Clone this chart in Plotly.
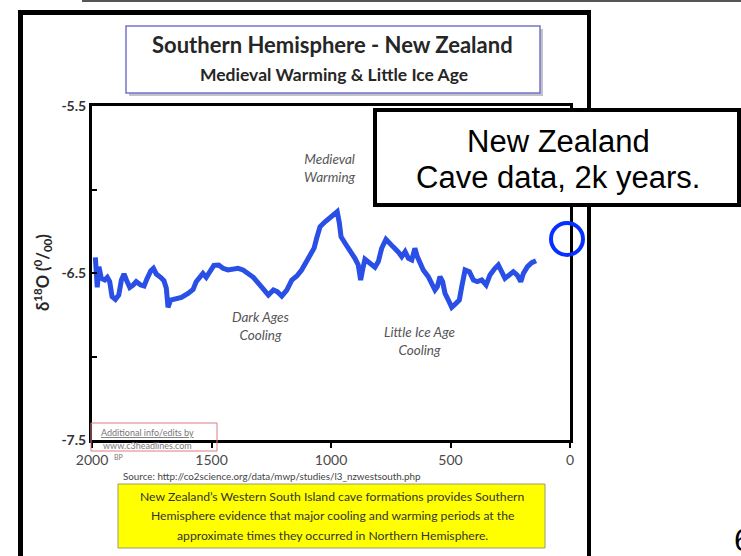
import plotly.graph_objects as go

# ---------------- data ----------------
years_bp = [1986, 1978, 1971, 1961, 1947, 1936, 1926, 1916, 1902, 1888, 1877, 1866, 1856, 1842, 1828,
            1815, 1796, 1782, 1769, 1754, 1743, 1731, 1713, 1699, 1689, 1682, 1671, 1651, 1626, 1598,
            1577, 1564, 1549, 1536, 1522, 1508, 1490, 1470, 1452, 1431, 1406, 1389, 1368, 1353, 1325,
            1297, 1276, 1262, 1241, 1225, 1206, 1185, 1164, 1143, 1123, 1109, 1088, 1071, 1060, 1046,
            1025, 1007, 990, 974, 965, 958, 941, 921, 900, 886, 876, 868, 858, 837, 816,
            802, 788, 770, 756, 739, 718, 704, 690, 676, 662, 649, 639, 628, 614, 593,
            579, 565, 555, 544, 533, 523, 509, 495, 477, 463, 453, 439, 421, 404, 388,
            369, 351, 335, 314, 300, 286, 272, 254, 237, 221, 206, 195, 178, 160, 142]

d18o = [-6.406, -6.586, -6.462, -6.532, -6.542, -6.526, -6.552, -6.642, -6.658, -6.632, -6.542, -6.506,
        -6.542, -6.586, -6.572, -6.552, -6.572, -6.578, -6.532, -6.486, -6.472, -6.506, -6.526, -6.546,
        -6.592, -6.706, -6.662, -6.654, -6.646, -6.622, -6.598, -6.552, -6.518, -6.502, -6.526, -6.492,
        -6.454, -6.452, -6.472, -6.482, -6.472, -6.472, -6.482, -6.495, -6.526, -6.572, -6.602, -6.632,
        -6.602, -6.612, -6.638, -6.602, -6.542, -6.518, -6.482, -6.446, -6.392, -6.352, -6.292, -6.223,
        -6.193, -6.172, -6.153, -6.133, -6.202, -6.283, -6.322, -6.362, -6.412, -6.452, -6.542, -6.482,
        -6.418, -6.442, -6.466, -6.432, -6.352, -6.298, -6.322, -6.345, -6.375, -6.402, -6.372, -6.412,
        -6.422, -6.352, -6.402, -6.442, -6.482, -6.522, -6.562, -6.602, -6.582, -6.522, -6.552, -6.622,
        -6.662, -6.706, -6.682, -6.662, -6.582, -6.482, -6.492, -6.542, -6.552, -6.542, -6.572, -6.512,
        -6.472, -6.452, -6.492, -6.532, -6.512, -6.492, -6.512, -6.552, -6.502, -6.462, -6.438, -6.426]

x_tickvals = [2000, 1500, 1000, 500, 0]
x_ticktext = ["2000", "1500", "1000", "500", "0"]
y_tickvals = [-5.5, -6.0, -6.5, -7.0, -7.5]
y_ticktext = ["-5.5", "", "-6.5", "", "-7.5"]

title_text = "Southern Hemisphere - New Zealand"
subtitle_text = "Medieval Warming & Little Ice Age"
period_labels = ["Medieval<br>Warming", "Dark Ages<br>Cooling", "Little Ice Age<br>Cooling"]
period_years = [1004, 1293, 628]
period_vals = [-5.87, -6.817, -6.907]
callout_lines = ["New Zealand", "Cave data, 2k years."]
source_text = "Source: http://co2science.org/data/mwp/studies/l3_nzwestsouth.php"
note_lines = ["New Zealand\u2019s Western South Island cave formations provides Southern",
              "Hemisphere evidence that major cooling and warming periods at the",
              "approximate times they occurred in Northern Hemisphere."]
credit_lines = ["<u>Additional info/edits by</u>", "www.c3headlines.com"]

# ---------------- helpers (pixel -> paper) ----------------
W, H = 741, 556
def px(x):
    return x / W
def py(y):
    return 1 - y / H

FONT = "Lato"

fig = go.Figure()
fig.add_trace(go.Scatter(x=years_bp, y=d18o, mode="lines",
                         line=dict(color="#2a4fe6", width=5), hoverinfo="skip",
                         showlegend=False))

shapes = []
shapes.append(dict(type="line", xref="paper", yref="paper", x0=px(82), x1=px(741), y0=py(1), y1=py(1),
                   line=dict(color="#555555", width=2)))
shapes.append(dict(type="line", xref="paper", yref="paper", x0=px(20.5), x1=px(20.5), y0=py(12.5), y1=py(560),
                   line=dict(color="black", width=5)))
shapes.append(dict(type="line", xref="paper", yref="paper", x0=px(18), x1=px(591), y0=py(12.5), y1=py(12.5),
                   line=dict(color="black", width=5)))
shapes.append(dict(type="line", xref="paper", yref="paper", x0=px(589), x1=px(589), y0=py(10), y1=py(560),
                   line=dict(color="black", width=4)))
shapes.append(dict(type="rect", xref="paper", yref="paper", x0=px(129), x1=px(543), y0=py(29), y1=py(96),
                   line=dict(width=0), fillcolor="rgba(120,120,140,0.45)", layer="below"))
shapes.append(dict(type="rect", xref="paper", yref="paper", x0=px(126), x1=px(540), y0=py(26), y1=py(93),
                   line=dict(color="#7474cc", width=1.5), fillcolor="white", layer="below"))
shapes.append(dict(type="rect", xref="paper", yref="paper", x0=px(91), x1=px(217), y0=py(423), y1=py(451),
                   line=dict(color="#e07b86", width=1), layer="above"))
shapes.append(dict(type="rect", xref="paper", yref="paper", x0=px(118), x1=px(545), y0=py(484), y1=py(548),
                   line=dict(color="#9a9a70", width=1), fillcolor="#ffff00", layer="below"))
shapes.append(dict(type="rect", xref="paper", yref="paper", x0=px(375), x1=px(739), y0=py(110), y1=py(205),
                   line=dict(color="black", width=4), fillcolor="white", layer="above"))
shapes.append(dict(type="circle", xref="paper", yref="paper", x0=px(551), x1=px(583), y0=py(223), y1=py(255),
                   line=dict(color="#0530ff", width=4), layer="above"))

ann = []
def note(x, y, text, font, **kw):
    d = dict(x=px(x), y=py(y), xref="paper", yref="paper", text=text, showarrow=False,
             xanchor="center", yanchor="middle", font=font)
    d.update(kw)
    ann.append(d)

note(332, 45, title_text, dict(family=FONT, size=22, color="#262626", weight="bold"))
note(334, 74, subtitle_text, dict(family=FONT, size=17.5, color="#262626", weight="bold"))
for t, xv, yv in zip(period_labels, period_years, period_vals):
    ann.append(dict(x=xv, y=yv, xref="x", yref="y", text=t, showarrow=False,
                    xanchor="center", yanchor="middle",
                    font=dict(family=FONT, size=13.5, color="#555555", style="italic")))
note(42, 273, "\u03b4<sup>18</sup>O (<sup>0</sup>/<sub>00</sub>)",
     dict(family=FONT, size=16.5, color="#262626", weight="bold"), textangle=-90)
note(558, 141, callout_lines[0], dict(family="Liberation Sans", size=31, color="black"))
note(558, 177, callout_lines[1], dict(family="Liberation Sans", size=31, color="black"))
note(272, 475.5, source_text, dict(family=FONT, size=9.8, color="#444444"))
for i, t in enumerate(note_lines):
    note(332, 496 + 19.5 * i, t, dict(family=FONT, size=12.2, color="#333333"))
note(147, 432, credit_lines[0], dict(family=FONT, size=9, color="#777777"))
note(147, 445, credit_lines[1], dict(family=FONT, size=9, color="#777777"))
note(112, 457, "BP", dict(family=FONT, size=7, color="#777777"), xanchor="left")
note(732, 540, "6", dict(family="Liberation Sans", size=32, color="black"), xanchor="left")

fig.update_layout(
    width=W, height=H, autosize=False,
    margin=dict(l=0, r=0, t=0, b=0, pad=0, autoexpand=False),
    paper_bgcolor="white", plot_bgcolor="white",
    showlegend=False, shapes=shapes, annotations=ann,
    xaxis=dict(domain=[px(92), px(570)], range=[2000, 0], tickvals=x_tickvals, ticktext=x_ticktext,
               ticks="outside", ticklen=5, tickwidth=2, tickcolor="black", automargin=False,
               showline=True, linewidth=3, linecolor="black", mirror=True,
               showgrid=False, zeroline=False, ticklabelstandoff=0,
               tickfont=dict(family=FONT, size=14, color="#4a4a4a")),
    yaxis=dict(domain=[py(440), py(106)], range=[-7.5, -5.5], tickvals=y_tickvals, ticktext=y_ticktext,
               ticks="inside", ticklen=5, tickwidth=2, tickcolor="black", automargin=False,
               showline=True, linewidth=3, linecolor="black", mirror=True,
               showgrid=False, zeroline=False,
               tickfont=dict(family=FONT, size=14, color="#333333", weight="bold")),
)

fig.write_html("out.html", config={"displayModeBar": False},
               post_script="document.body.style.margin='0px';")
